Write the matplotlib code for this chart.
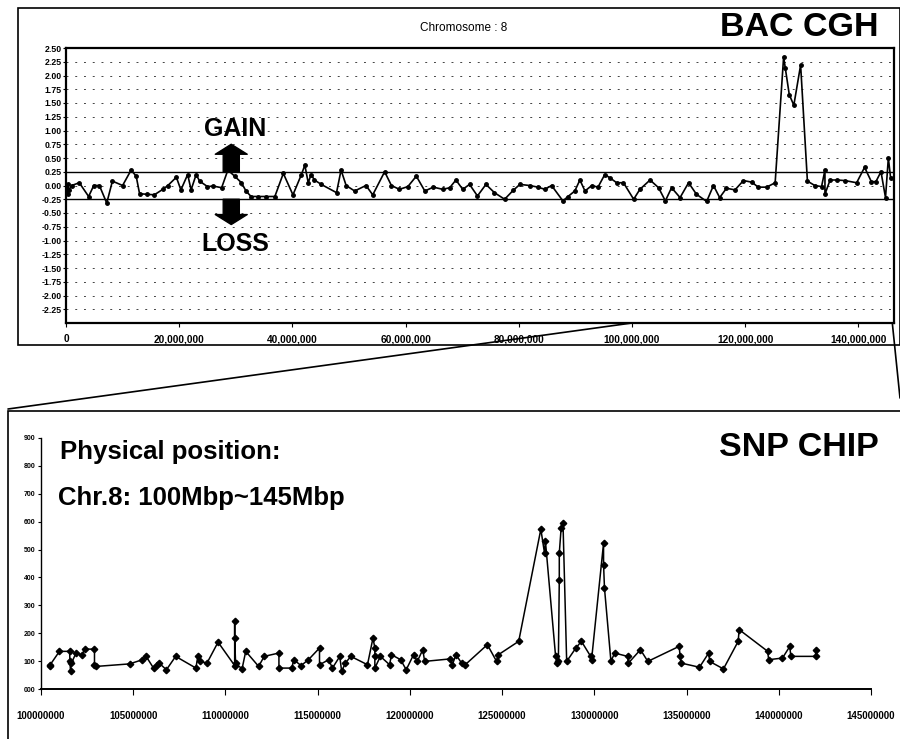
import numpy as np
import matplotlib
matplotlib.use("Agg")
import matplotlib.pyplot as plt
from matplotlib.patches import Rectangle, ConnectionPatch

# BAC CGH, chromosome 8: position (Mbp) and log2 ratio
bac_pos_mb = [0.3, 0.3, 0.5, 1.0, 2.35, 4.0, 4.9, 5.9, 7.2, 8.2, 10.0, 11.5, 12.4, 13.0,
              14.4, 15.6, 17.1, 18.0, 19.5, 20.3, 21.5, 22.1, 23.0, 23.6, 25.0, 26.0,
              27.5, 28.6, 29.8, 31.0, 31.8, 32.7, 33.9, 35.4, 36.9, 38.4, 40.1, 41.6,
              42.2, 42.8, 43.3, 43.9, 45.1, 47.8, 48.6, 49.5, 51.0, 53.0, 54.2, 56.3,
              57.5, 58.9, 60.4, 61.9, 63.4, 64.9, 66.6, 67.8, 68.9, 70.1, 71.3, 72.7,
              74.2, 75.7, 77.5, 79.0, 80.2, 81.9, 83.4, 84.6, 85.8, 87.8, 88.7, 89.9,
              90.8, 91.7, 92.9, 94.0, 95.2, 96.1, 97.3, 98.5, 100.3, 101.4, 103.2,
              104.7, 105.9, 107.0, 108.5, 110.0, 111.4, 113.2, 114.4, 115.5, 116.7,
              118.2, 119.7, 121.2, 122.3, 123.8, 125.3, 126.8, 127.1, 127.8, 128.6,
              129.8, 131.0, 132.3, 133.5, 134.1, 134.1, 135.0, 136.2, 137.6, 139.7,
              141.1, 142.3, 143.1, 144.0, 144.8, 145.3, 145.7]
bac_log2 = [-0.15, 0.02, -0.08, 0.0, 0.05, -0.2, 0.0, 0.0, -0.32, 0.08, 0.0, 0.28, 0.17,
            -0.15, -0.16, -0.17, -0.07, 0.0, 0.15, -0.08, 0.2, -0.08, 0.2, 0.08, -0.02,
            -0.01, -0.04, 0.28, 0.17, 0.05, -0.1, -0.2, -0.2, -0.2, -0.2, 0.22, -0.17,
            0.2, 0.37, 0.05, 0.2, 0.1, 0.02, -0.13, 0.28, 0.0, -0.1, 0.0, -0.17, 0.25,
            0.0, -0.07, -0.02, 0.17, -0.1, -0.03, -0.07, -0.04, 0.1, -0.07, 0.02, -0.19,
            0.02, -0.13, -0.25, -0.09, 0.02, 0.0, -0.03, -0.07, 0.0, -0.28, -0.2, -0.1,
            0.1, -0.1, 0.0, -0.03, 0.2, 0.14, 0.05, 0.05, -0.25, -0.07, 0.1, -0.04,
            -0.28, -0.04, -0.22, 0.05, -0.16, -0.29, 0.0, -0.22, -0.05, -0.08, 0.09,
            0.06, -0.03, -0.03, 0.05, 2.34, 2.13, 1.65, 1.46, 2.19, 0.08, 0.0, -0.02,
            0.28, -0.16, 0.1, 0.1, 0.09, 0.05, 0.33, 0.07, 0.07, 0.25, -0.22, 0.5, 0.14]

# SNP chip, chr.8 100-145 Mbp
snp_pos_mb = [100.5, 100.5, 101.0, 101.55, 101.57, 101.6, 101.65, 101.9, 102.2, 102.4,
              102.9, 102.9, 103.0, 104.8, 105.5, 105.7, 106.1, 106.3, 106.4, 106.8,
              107.3, 108.4, 108.5, 108.6, 109.0, 109.6, 110.5, 110.5, 110.5, 110.55,
              110.9, 111.1, 111.8, 112.1, 112.9, 112.9, 113.6, 113.7, 114.1, 114.5,
              115.1, 115.1, 115.6, 115.8, 116.2, 116.3, 116.5, 116.8, 117.7, 118.0,
              118.1, 118.1, 118.1, 118.4, 118.9, 119.0, 119.5, 119.8, 120.2, 120.4,
              120.7, 120.8, 122.2, 122.3, 122.5, 122.8, 123.0, 124.2, 124.7, 124.8,
              125.9, 127.1, 127.3, 127.35, 127.9, 128.0, 128.05, 128.1, 128.1, 128.2,
              128.3, 128.5, 129.0, 129.3, 129.8, 129.85, 130.5, 130.5, 130.55, 130.9,
              131.1, 131.8, 131.85, 132.5, 132.9, 134.6, 134.65, 134.7, 135.7, 136.2,
              136.25, 137.0, 137.8, 137.85, 139.4, 139.45, 140.2, 140.6, 140.65, 142.0,
              142.0]
snp_value = [81, 87, 135, 135, 99, 63, 93, 129, 123, 143, 143, 87, 81, 90, 105, 117, 75,
             87, 93, 69, 117, 75, 117, 99, 93, 168, 84, 243, 183, 93, 72, 135, 81, 117,
             129, 75, 75, 105, 84, 105, 147, 87, 105, 75, 117, 63, 93, 117, 87, 183, 147,
             117, 75, 117, 87, 123, 105, 69, 123, 99, 141, 99, 108, 87, 123, 93, 87, 159,
             99, 123, 171, 573, 487, 529, 117, 93, 99, 392, 487, 577, 597, 99, 147, 171,
             117, 105, 523, 446, 362, 99, 129, 117, 93, 141, 99, 153, 117, 93, 78, 129,
             99, 72, 171, 213, 135, 105, 111, 153, 117, 117, 141]

bac_yticks = [2.5, 2.25, 2.0, 1.75, 1.5, 1.25, 1.0, 0.75, 0.5, 0.25, 0.0, -0.25, -0.5,
              -0.75, -1.0, -1.25, -1.5, -1.75, -2.0, -2.25]
bac_xticks = [0, 20e6, 40e6, 60e6, 80e6, 100e6, 120e6, 140e6]
snp_xticks = [100e6, 105e6, 110e6, 115e6, 120e6, 125e6, 130e6, 135e6, 140e6, 145e6]
snp_yticks = [0, 100, 200, 300, 400, 500, 600, 700, 800, 900]

W, H = 900, 739
fig = plt.figure(figsize=(9, 7.39), dpi=100)
plt.rcParams["font.family"] = "Liberation Sans"


def fx(px):
    return px / W


def fy(py):
    return 1 - py / H


# panel frames
fig.add_artist(Rectangle((fx(18), fy(345)), fx(900) - fx(18), fy(8) - fy(345),
                         transform=fig.transFigure, fill=False, lw=1.2, color="black"))
fig.add_artist(Rectangle((fx(8), fy(745)), fx(905) - fx(8), fy(411) - fy(745),
                         transform=fig.transFigure, fill=False, lw=1.2, color="black"))

# ---------------- top: BAC CGH ----------------
ax1 = fig.add_axes([fx(66), fy(323), fx(894) - fx(66), fy(48) - fy(323)])
ax1.set_xlim(0, 146.3e6)
ax1.set_ylim(-2.5, 2.5)

for yv in bac_yticks[1:]:
    if abs(abs(yv) - 0.25) < 1e-9:
        ax1.axhline(yv, color="black", lw=1.0)
    else:
        ax1.axhline(yv, color="#444444", lw=0.7, linestyle=(0, (2, 7)))

ax1.plot(np.array(bac_pos_mb) * 1e6, bac_log2, color="black", lw=1.2,
         marker="o", markersize=2.5)

ax1.set_yticks(bac_yticks)
ax1.set_yticklabels([f"{v:.2f}" for v in bac_yticks], fontsize=6.3, fontweight="bold")
ax1.set_xticks(bac_xticks)
ax1.set_xticklabels([f"{int(v):,}" for v in bac_xticks], fontsize=7.3, fontweight="bold")
ax1.tick_params(axis="y", length=2, pad=1)
ax1.tick_params(axis="x", length=3, pad=5)
for sp in ax1.spines.values():
    sp.set_linewidth(1.6)

gx = 29.2e6
ax1.text(29.8e6, 1.03, "GAIN", ha="center", va="center", fontsize=18, fontweight="bold")
ax1.text(30.0e6, -1.07, "LOSS", ha="center", va="center", fontsize=18, fontweight="bold")
arrow_style = dict(arrowstyle="simple,head_width=1.15,head_length=0.36,tail_width=0.58",
                   mutation_scale=20, color="black", shrinkA=0, shrinkB=0)
ax1.annotate("", xy=(gx, 0.75), xytext=(gx, 0.25), arrowprops=arrow_style)
ax1.annotate("", xy=(gx, -0.71), xytext=(gx, -0.25), arrowprops=arrow_style)

fig.text(fx(464), fy(28), "Chromosome : 8", ha="center", va="center", fontsize=8.5)
fig.text(fx(799), fy(28), "BAC CGH", ha="center", va="center", fontsize=24.5,
         fontweight="bold")

# ---------------- bottom: SNP chip ----------------
ax2 = fig.add_axes([fx(41), fy(689), fx(871) - fx(41), fy(438) - fy(689)])
ax2.set_xlim(100e6, 145e6)
ax2.set_ylim(0, 900)
ax2.plot(np.array(snp_pos_mb) * 1e6, snp_value, color="black", lw=1.1,
         marker="D", markersize=3.3)
ax2.spines["top"].set_visible(False)
ax2.spines["right"].set_visible(False)
ax2.spines["left"].set_linewidth(1.0)
ax2.spines["bottom"].set_linewidth(1.4)
ax2.set_xticks(snp_xticks)
ax2.set_xticklabels([f"{int(v)}" for v in snp_xticks], fontsize=7, fontweight="bold")
ax2.set_yticks(snp_yticks)
ax2.set_yticklabels([f"{v:03d}" for v in snp_yticks], fontsize=5, fontweight="bold")
ax2.tick_params(axis="x", length=4, pad=12)
ax2.tick_params(axis="y", length=2, pad=2)

fig.text(fx(60), fy(452), "Physical position:", ha="left", va="center", fontsize=18.5,
         fontweight="bold")
fig.text(fx(58), fy(498), "Chr.8: 100Mbp~145Mbp", ha="left", va="center",
         fontsize=18.5, fontweight="bold")
fig.text(fx(799), fy(447), "SNP CHIP", ha="center", va="center", fontsize=24.5,
         fontweight="bold")

# zoom connectors from the BAC axis to the SNP panel
fig.add_artist(ConnectionPatch(xyA=(100e6, -2.5), coordsA=ax1.transData,
                               xyB=(fx(8), fy(409)), coordsB=fig.transFigure,
                               color="black", lw=1.2))
fig.add_artist(ConnectionPatch(xyA=(146.0e6, -2.5), coordsA=ax1.transData,
                               xyB=(fx(900), fy(398)), coordsB=fig.transFigure,
                               color="black", lw=1.2))

fig.savefig("out.png", dpi=100)
